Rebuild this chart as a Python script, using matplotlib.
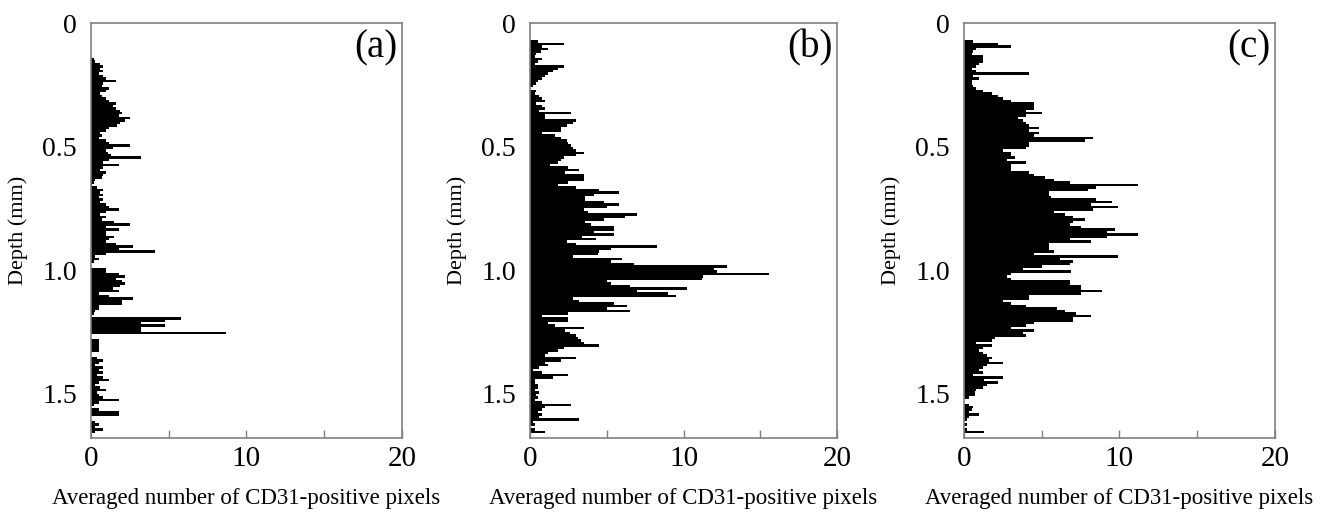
import numpy as np
import matplotlib.pyplot as plt

plt.rcParams['font.family'] = ['Liberation Serif', 'DejaVu Serif']

bin_width = 0.01  # mm per bar
depth_max = 1.68

# panel (a): averaged CD31-positive pixels per 10 um depth bin, from the surface down
counts_a = [0.0] * 14 + [
    0.2, 0.3, 0.6, 0.8, 0.6, 0.8, 0.5, 0.8, 1.0, 1.6,
    0.8, 0.7, 1.2, 1.0, 0.6, 0.7, 1.0, 1.2, 1.6, 1.4,
    1.6, 1.9, 2.0, 1.8, 2.5, 2.2, 1.9, 1.7, 1.2, 1.0,
    0.6, 0.7, 0.5, 1.0, 1.2, 2.5, 1.4, 1.0, 1.1, 1.3,
    3.2,
    1.2, 0.8, 1.8, 0.8, 0.6, 1.0, 0.8, 0.7, 0.3, 0.2,
    0.1, 0.4, 0.8, 0.6, 0.8, 0.5, 0.8, 0.6, 1.0, 1.2,
    1.8, 1.0, 0.6, 1.0, 0.7, 1.5, 2.5, 1.0, 1.8, 1.0,
    1.0, 1.5, 1.2, 1.0, 1.6, 2.7, 1.8, 4.1, 1.0, 0.3,
    0.5, 0.2, 0.0, 0.0, 1.0, 1.0, 1.8, 2.2, 1.6, 2.0,
    2.2, 1.9, 1.4, 1.8, 0.5, 1.2,
    2.7, 2.0, 2.0, 0.5, 0.5, 0.3, 0.2, 0.1, 5.8, 4.8,
    3.2, 4.8, 3.2, 3.2, 8.7, 0.0, 0.0, 0.5, 0.5, 0.5,
    0.5, 0.5, 0.0, 0.0, 0.4, 0.8, 0.5, 0.3, 0.8, 0.5,
    0.8, 0.4, 0.8, 1.2, 0.5, 0.3, 0.6, 1.0, 0.4, 0.5,
    0.8, 1.8, 0.5, 0.2, 0.0, 0.5, 1.8, 1.8, 0.0, 0.0,
    0.3, 0.5, 0.3, 0.8, 0.3,
]

# panel (b)
counts_b = [0.0] * 7 + [
    0.5, 2.2, 0.8, 1.2, 0.7, 0.4, 0.3, 0.8, 0.5, 0.3,
    2.2, 1.8, 1.5, 1.2, 1.0, 0.8, 0.5, 0.4, 0.2, 0.0,
    0.4, 0.3, 0.6, 0.8, 1.0, 0.4, 0.8, 1.0, 0.6, 2.7,
    1.0, 1.0, 3.0, 2.8, 2.4, 2.0, 2.0, 0.8, 1.6, 2.0,
    2.4, 2.5, 2.7, 2.8, 3.0, 3.5, 3.0, 2.2,
    2.0, 1.8, 1.3, 2.5, 3.2, 2.3, 3.5, 3.5, 3.5, 2.5,
    1.8, 3.0, 4.5, 5.8, 4.2, 3.6, 3.6, 4.8, 5.8, 5.0,
    3.5, 3.8, 7.0, 6.2, 4.8, 3.6, 4.0, 5.5, 5.5, 4.2,
    5.5, 3.4, 4.3, 2.4, 3.0, 8.3, 5.3, 4.5, 4.4, 2.8,
    6.0, 5.3, 6.8, 12.8, 12.0, 12.2, 15.6, 11.3, 11.2, 5.0,
    5.3, 6.5, 10.2, 7.0, 9.0, 9.5,
    2.8, 3.2, 5.5, 6.3, 5.0, 6.5, 2.5, 0.8, 2.5, 2.5,
    1.2, 1.6, 3.5, 2.3, 2.6, 3.0, 3.1, 3.3, 3.5, 4.5,
    2.2, 1.8, 1.2, 1.0, 3.0, 2.0, 1.0, 1.2, 0.6, 0.2,
    0.8, 2.5, 1.5, 0.3, 0.3, 0.5, 0.5, 0.3, 0.6, 0.4,
    0.5, 0.3, 0.8, 2.7, 1.0, 0.8, 0.5, 0.8, 0.6, 3.2,
    0.2, 0.3, 0.0, 0.3, 1.0,
]

# panel (c)
counts_c = [0.0] * 7 + [
    0.6, 2.2, 3.0, 0.8, 0.6, 0.5, 1.2, 1.2, 1.2, 1.0,
    0.8, 0.5, 0.8, 4.2, 0.6, 1.0, 0.5, 0.5, 0.6, 0.8,
    1.2, 1.8, 2.2, 2.5, 3.0, 4.5, 4.5, 4.5, 4.0, 5.0,
    4.0, 3.5, 3.8, 4.0, 4.2, 4.8, 4.2, 4.8, 4.5, 8.3,
    7.8, 4.2, 4.2, 4.0, 2.5, 3.0, 3.0, 3.3,
    2.8, 4.0, 3.0, 3.0, 3.0, 4.2, 4.5, 5.2, 5.8, 6.8,
    11.2, 8.5, 8.0, 5.5, 5.5, 5.6, 8.5, 9.5, 8.2, 9.9,
    8.3, 5.8, 6.5, 7.0, 7.8, 7.0, 6.8, 7.5, 9.7, 9.2,
    11.2, 9.2, 6.8, 8.2, 5.5, 5.5, 5.5, 5.8, 4.5, 9.9,
    6.2, 7.0, 6.8, 5.0, 3.8, 6.9, 3.0, 2.8, 3.0, 6.8,
    6.8, 7.5, 7.5, 8.9, 7.5, 4.2,
    4.2, 2.5, 3.0, 4.0, 6.0, 6.5, 7.2, 8.2, 7.0, 7.0,
    4.5, 4.0, 3.0, 4.5, 3.8, 4.0, 2.0, 1.8, 0.8, 1.8,
    1.2, 1.0, 1.2, 1.5, 1.8, 1.6, 2.5, 1.5, 1.2, 1.0,
    1.2, 0.6, 2.5, 1.3, 2.2, 1.5, 1.2, 0.8, 0.7, 0.7,
    0.3, 0.0, 0.0, 0.3, 0.6, 0.5, 0.3, 1.0, 0.3, 0.2,
    0.0, 0.2, 0.0, 0.2, 1.3,
]

panel_tags = ['(a)', '(b)', '(c)']
x_ticks = [0, 5, 10, 15, 20]
x_ticklabels = ['0', '', '10', '', '20']
y_ticks = [0, 0.5, 1.0, 1.5]
y_ticklabels = ['0', '0.5', '1.0', '1.5']

fig = plt.figure(figsize=(13.35, 5.13), dpi=100)
lefts = [0.068, 0.397, 0.722]
widths = [0.233, 0.230, 0.233]

for left, width, counts, tag in zip(lefts, widths, [counts_a, counts_b, counts_c], panel_tags):
    ax = fig.add_axes([left, 0.146, width, 0.809])
    depth = np.arange(len(counts)) * bin_width + bin_width / 2
    ax.barh(depth, counts, height=bin_width, color='black', linewidth=0)
    ax.set_xlim(0, 20)
    ax.set_ylim(depth_max, 0)
    ax.set_xticks(x_ticks)
    ax.set_xticklabels(x_ticklabels)
    ax.set_yticks(y_ticks)
    ax.set_yticklabels(y_ticklabels)
    ax.tick_params(axis='x', direction='in', length=6, width=1, color='#808080',
                   labelsize=21, pad=6)
    ax.tick_params(axis='y', length=0, labelsize=20, pad=10)
    for sp in ax.spines.values():
        sp.set_color('#808080')
        sp.set_linewidth(1.2)
    ax.set_xlabel('Averaged number of CD31-positive pixels', fontsize=16.5, labelpad=11)
    ax.set_ylabel('Depth (mm)', fontsize=16, labelpad=10)
    ax.text(0.985, 0.985, tag, transform=ax.transAxes, ha='right', va='top', fontsize=28)

fig.savefig('out.png', dpi=100)
